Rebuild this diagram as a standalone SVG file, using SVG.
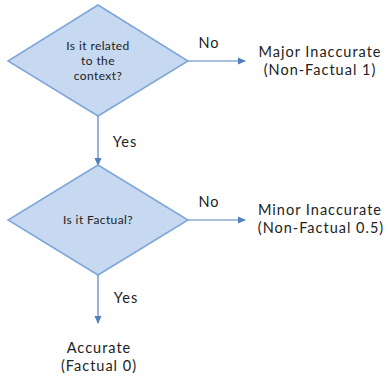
<svg xmlns="http://www.w3.org/2000/svg" width="392" height="378" viewBox="0 0 392 378">
<style>
.d{fill:#c6d9f1;stroke:#7ea6d8;stroke-width:1.5}
.c{stroke:#4f81bd;stroke-width:1.2;fill:none}
.t{font-family:Lato,"Noto Sans",sans-serif;fill:#222;text-anchor:middle}
.s{font-size:12px;letter-spacing:0.4px}
.m{font-size:14.5px;letter-spacing:1px}
</style>
<defs>
<marker id="ah" markerWidth="8" markerHeight="8" refX="7" refY="4" orient="auto" markerUnits="userSpaceOnUse">
<path d="M0,0.5 L8,4 L0,7.5 Z" fill="#4f81bd"/>
</marker>
</defs>
<rect width="392" height="378" fill="#fff"/>
<g id="connectors">
<line class="c" x1="188" y1="61" x2="245" y2="61" marker-end="url(#ah)"/>
<line class="c" x1="98" y1="116" x2="98" y2="165" marker-end="url(#ah)"/>
<line class="c" x1="188" y1="220" x2="245" y2="220" marker-end="url(#ah)"/>
<line class="c" x1="98" y1="275" x2="98" y2="323" marker-end="url(#ah)"/>
<text class="t m" x="209" y="48">No</text>
<text class="t m" x="125" y="147">Yes</text>
<text class="t m" x="209" y="207">No</text>
<text class="t m" x="126" y="303">Yes</text>
</g>
<g id="q1">
<polygon class="d" points="98,5 188,61 98,116 8,61"/>
<text class="t s" x="98" y="50">Is it related</text>
<text class="t s" x="98" y="65">to the</text>
<text class="t s" x="98" y="80">context?</text>
</g>
<g id="q2">
<polygon class="d" points="98,165 188,220 98,275 8,220"/>
<text class="t s" x="98" y="224">Is it Factual?</text>
</g>
<g id="major">
<text class="t m" x="320" y="57">Major Inaccurate</text>
<text class="t m" x="320" y="75">(Non-Factual 1)</text>
</g>
<g id="minor">
<text class="t m" x="320" y="215">Minor Inaccurate</text>
<text class="t m" x="321" y="233">(Non-Factual 0.5)</text>
</g>
<g id="accurate">
<text class="t m" x="99" y="353">Accurate</text>
<text class="t m" x="99" y="371">(Factual 0)</text>
</g>
</svg>
